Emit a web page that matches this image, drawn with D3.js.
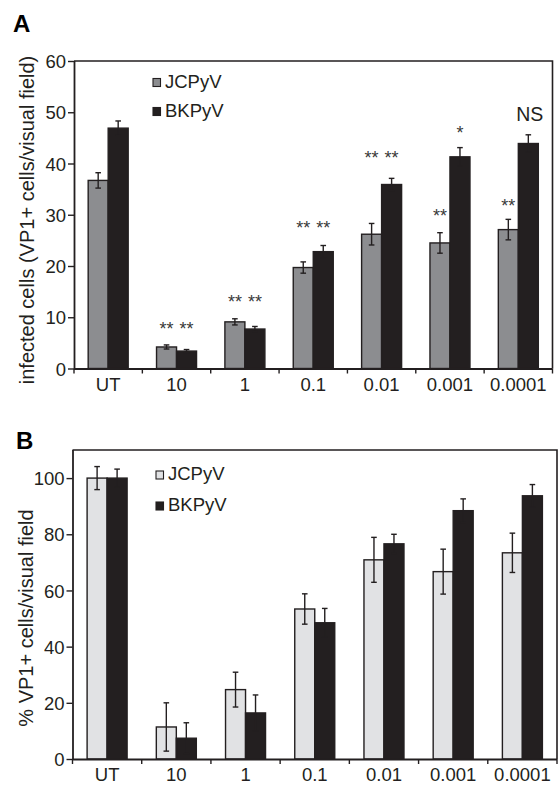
<!DOCTYPE html>
<html><head><meta charset="utf-8">
<script src="https://cdn.jsdelivr.net/npm/d3@7"></script>
<style>
html,body{margin:0;padding:0;background:#fff;}
svg{display:block;font-family:"Liberation Sans",Arial,sans-serif;}
</style></head>
<body>
<svg id="chart" width="558" height="785"></svg>
<script>
// ---- data ----
const categories = ["UT","10","1","0.1","0.01","0.001","0.0001"];
const seriesNames = ["JCPyV","BKPyV"];

// Panel A: infected cells (VP1+ cells/visual field)
const aJC    = [36.7, 4.2, 9.1, 19.7, 26.2, 24.5, 27.1];
const aJCerr = [1.5, 0.4, 0.6, 1.1, 2.1, 2.0, 2.0];
const aBK    = [46.9, 3.4, 7.7, 22.8, 35.9, 41.3, 43.9];
const aBKerr = [1.4, 0.3, 0.5, 1.2, 1.2, 1.8, 1.7];
const aTicks = [0, 10, 20, 30, 40, 50, 60];

// Panel A significance annotations: category, series, label, level (data units)
const aAnnCat    = ["10","10","1","1","0.1","0.1","0.01","0.01","0.001","0.001","0.0001","0.0001"];
const aAnnSeries = ["JCPyV","BKPyV","JCPyV","BKPyV","JCPyV","BKPyV","JCPyV","BKPyV","JCPyV","BKPyV","JCPyV","BKPyV"];
const aAnnText   = ["**","**","**","**","**","**","**","**","**","*","**","NS"];
const aAnnLevel  = [8.5, 8.5, 13.8, 13.8, 28.2, 28.2, 42.0, 42.0, 30.5, 46.8, 32.5, 49.6];

// Panel B: % VP1+ cells/visual field
const bJC    = [100, 11.4, 24.7, 53.4, 70.9, 66.7, 73.4];
const bJCerr = [4.1, 8.6, 6.2, 5.4, 8.0, 8.0, 7.0];
const bBK    = [100, 7.4, 16.4, 48.5, 76.6, 88.4, 93.7];
const bBKerr = [3.2, 5.5, 6.4, 5.1, 3.4, 4.2, 4.0];
const bTicks = [0, 20, 40, 60, 80, 100];

// ---- drawing ----
const svg = d3.select("#chart");
const INK = "#231f20";

function panel(cfg){
  const g = svg.append("g");
  const x0 = d3.scaleBand().domain(categories).range([cfg.left, cfg.right]).padding(0);
  const bw = x0.bandwidth();
  const x1 = d3.scaleBand().domain(seriesNames).range([bw/2 - 20, bw/2 + 20]).padding(0);
  const y = d3.scaleLinear().domain(cfg.domain).range([cfg.bottom, cfg.top]);

  const series = [
    {name: "JCPyV", vals: cfg.jc, errs: cfg.jcErr, fill: cfg.jcFill},
    {name: "BKPyV", vals: cfg.bk, errs: cfg.bkErr, fill: INK}
  ];

  // bars
  series.forEach(s => {
    g.append("g").selectAll("rect").data(categories).join("rect")
      .attr("x", c => x0(c) + x1(s.name))
      .attr("y", (c,i) => y(s.vals[i]))
      .attr("width", x1.bandwidth())
      .attr("height", (c,i) => y(0) - y(s.vals[i]))
      .attr("fill", s.fill)
      .attr("stroke", INK)
      .attr("stroke-width", 1.4);
  });
  // error bars
  series.forEach(s => {
    const eg = g.append("g").attr("stroke", INK).attr("stroke-width", 1.4).attr("fill","none");
    categories.forEach((c,i) => {
      const cx = x0(c) + x1(s.name) + x1.bandwidth()/2;
      const yt = y(s.vals[i] + s.errs[i]);
      const yb = y(Math.max(0, s.vals[i] - s.errs[i]));
      eg.append("line").attr("x1",cx).attr("x2",cx).attr("y1",yt).attr("y2",yb);
      eg.append("line").attr("x1",cx-2.8).attr("x2",cx+2.8).attr("y1",yt).attr("y2",yt);
      eg.append("line").attr("x1",cx-2.8).attr("x2",cx+2.8).attr("y1",yb).attr("y2",yb);
    });
  });

  // frame (top & right)
  g.append("path")
    .attr("d", `M${cfg.left},${cfg.top}H${cfg.right}V${cfg.bottom}`)
    .attr("fill","none").attr("stroke", INK).attr("stroke-width", 1.6);

  // y axis
  const ya = g.append("g").attr("transform", `translate(${cfg.left},0)`)
    .call(d3.axisLeft(y).tickValues(cfg.ticks).tickSize(6).tickSizeOuter(0).tickPadding(2));
  ya.select(".domain").attr("stroke", INK).attr("stroke-width", 1.8)
    .attr("d", `M0.5,${cfg.top}V${cfg.bottom}`);
  ya.selectAll(".tick line").attr("stroke", INK).attr("stroke-width", 1.4);
  ya.selectAll(".tick text").attr("fill", INK).style("font-size","18.5px")
    .style("font-family",'"Liberation Sans",Arial,sans-serif').attr("dy","0.36em");

  // x axis (labels centred on bands, ticks on band edges)
  const xa = g.append("g").attr("transform", `translate(0,${cfg.bottom})`)
    .call(d3.axisBottom(x0).tickSize(0).tickPadding(cfg.xPad));
  xa.select(".domain").attr("stroke", INK).attr("stroke-width", 1.8)
    .attr("d", `M${cfg.left},0.5H${cfg.right}`);
  xa.selectAll(".tick text").attr("fill", INK).style("font-size","18.5px")
    .style("font-family",'"Liberation Sans",Arial,sans-serif');
  const edges = categories.map(c => x0(c)).concat([x0.range()[1]]);
  xa.selectAll("line.edge").data(edges).join("line").attr("class","edge")
    .attr("x1", d => d).attr("x2", d => d).attr("y1", 0).attr("y2", 5)
    .attr("stroke", INK).attr("stroke-width", 1.4);

  // y label
  g.append("text")
    .attr("transform", `translate(${cfg.labelX},${cfg.labelY}) rotate(-90)`)
    .attr("text-anchor","middle").attr("fill", INK)
    .style("font-size","20px").text(cfg.yLabel);

  // panel letter
  g.append("text").attr("x", cfg.letterX).attr("y", cfg.letterY)
    .attr("fill","#000").style("font-size","24px").style("font-weight","bold").text(cfg.letter);

  // legend
  series.forEach((s,i) => {
    const ly = cfg.legY + i*cfg.legStep;
    g.append("rect").attr("x", cfg.legX).attr("y", ly - 9).attr("width", 7.5).attr("height", 8)
      .attr("fill", s.fill).attr("stroke", INK).attr("stroke-width", 1.1);
    g.append("text").attr("x", cfg.legX + 12).attr("y", ly).attr("fill", INK)
      .style("font-size","18.5px").text(s.name);
  });

  return {x0, x1, y, g};
}

const A = panel({
  left: 74, right: 552.5, top: 61, bottom: 368.5, domain: [0, 60], ticks: aTicks,
  jc: aJC, jcErr: aJCerr, bk: aBK, bkErr: aBKerr, jcFill: "#8c8d90",
  xPad: 9.5, yLabel: "infected cells (VP1+ cells/visual field)", labelX: 34, labelY: 220,
  letter: "A", letterX: 13, letterY: 32, legX: 153, legY: 87.5, legStep: 29
});

// annotations panel A
aAnnText.forEach((t,i) => {
  const c = aAnnCat[i], s = aAnnSeries[i];
  const cx = A.x0(c) + A.x1(s) + A.x1.bandwidth()/2;
  const isStar = !/[A-Z]/.test(t);
  const fs = isStar ? 18 : 19.5;
  const off = isStar ? 0.57*fs : 0.36*fs;
  A.g.append("text").attr("x", cx + (isStar ? 0 : 1.5)).attr("y", A.y(aAnnLevel[i]) + off)
    .attr("text-anchor","middle").attr("fill", isStar ? "#3a3a3a" : INK)
    .style("font-size", fs + "px").text(t);
});

panel({
  left: 72.5, right: 557, top: 450, bottom: 759, domain: [0, 110], ticks: bTicks,
  jc: bJC, jcErr: bJCerr, bk: bBK, bkErr: bBKerr, jcFill: "#e1e2e4",
  xPad: 8.5, yLabel: "% VP1+ cells/visual field", labelX: 33, labelY: 618,
  letter: "B", letterX: 16, letterY: 449, legX: 156, legY: 480, legStep: 31
});
</script>
</body></html>
